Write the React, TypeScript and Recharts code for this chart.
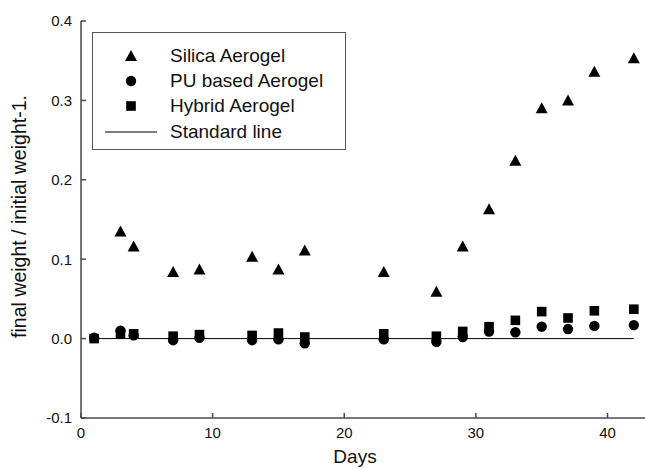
import React from "react";
import {
  ComposedChart,
  Scatter,
  XAxis,
  YAxis,
  ReferenceLine,
  Legend,
} from "recharts";

const SILICA_DAYS = [3, 4, 7, 9, 13, 15, 17, 23, 27, 29, 31, 33, 35, 37, 39, 42];
const SILICA = [0.135, 0.116, 0.084, 0.087, 0.103, 0.087, 0.111, 0.084, 0.059, 0.116, 0.163, 0.224, 0.29, 0.3, 0.336, 0.353];

const DAYS = [1, 3, 4, 7, 9, 13, 15, 17, 23, 27, 29, 31, 33, 35, 37, 39, 42];
const PU = [0.001, 0.01, 0.004, -0.002, 0.001, -0.002, -0.001, -0.006, -0.001, -0.004, 0.002, 0.009, 0.008, 0.015, 0.012, 0.016, 0.017];
const HYBRID = [0.0, 0.006, 0.006, 0.003, 0.005, 0.004, 0.007, 0.002, 0.006, 0.003, 0.009, 0.015, 0.023, 0.034, 0.026, 0.035, 0.037];

const X_TICKS = [0, 10, 20, 30, 40];
const Y_TICKS = [-0.1, 0.0, 0.1, 0.2, 0.3, 0.4];
const STANDARD = [
  { x: 1, y: 0 },
  { x: 42, y: 0 },
];

const LEGEND_ITEMS = [
  { name: "Silica Aerogel", kind: "triangle" },
  { name: "PU based Aerogel", kind: "circle" },
  { name: "Hybrid Aerogel", kind: "square" },
  { name: "Standard line", kind: "line" },
];

const silicaData = SILICA_DAYS.map((d, i) => ({ x: d, y: SILICA[i] }));
const puData = DAYS.map((d, i) => ({ x: d, y: PU[i] }));
const hybridData = DAYS.map((d, i) => ({ x: d, y: HYBRID[i] }));

const FONT = "'Liberation Sans', Arial, sans-serif";
const AXIS = "#4a4a4a";

const Triangle = (p: any) => (
  <polygon
    points={`${p.cx},${p.cy - 6} ${p.cx - 6},${p.cy + 5} ${p.cx + 6},${p.cy + 5}`}
    fill="#000"
  />
);
const Dot = (p: any) => <circle cx={p.cx} cy={p.cy} r={5.2} fill="#000" />;
const Square = (p: any) => (
  <rect x={p.cx - 4.8} y={p.cy - 4.8} width={9.6} height={9.6} fill="#000" />
);

function LegendIcon({ kind }: { kind: string }) {
  return (
    <svg width={56} height={20} style={{ display: "block" }}>
      {kind === "triangle" && <Triangle cx={28} cy={10} />}
      {kind === "circle" && <Dot cx={28} cy={10} />}
      {kind === "square" && <Square cx={28} cy={10} />}
      {kind === "line" && <line x1={2} y1={10} x2={54} y2={10} stroke="#000" strokeWidth={1} />}
    </svg>
  );
}

function LegendBox() {
  return (
    <div
      style={{
        width: 254,
        height: 118,
        border: "1px solid #555",
        boxSizing: "border-box",
        padding: "10px 0 0 10px",
        fontFamily: FONT,
        fontSize: 19,
        color: "#111",
        background: "#fff",
      }}
    >
      {LEGEND_ITEMS.map((it) => (
        <div
          key={it.name}
          style={{ display: "flex", alignItems: "center", height: 25.3 }}
        >
          <LegendIcon kind={it.kind} />
          <span style={{ marginLeft: 11 }}>{it.name}</span>
        </div>
      ))}
    </div>
  );
}

export default function App() {
  return (
    <div
      style={{
        position: "absolute",
        left: 0,
        top: 0,
        width: 645,
        height: 469,
        overflow: "hidden",
        background: "#fff",
      }}
    >
      <ComposedChart
        width={660}
        height={469}
        margin={{ top: 21, right: 13, bottom: 0, left: 0 }}
        style={{ fontFamily: FONT }}
      >
        <XAxis
          xAxisId="top"
          orientation="top"
          type="number"
          dataKey="x"
          domain={[0, 43]}
          ticks={[]}
          tick={false}
          height={0}
          stroke={AXIS}
          strokeWidth={1.5}
        />
        <XAxis
          type="number"
          dataKey="x"
          domain={[0, 43]}
          ticks={X_TICKS}
          allowDataOverflow
          tickSize={-5}
          tickMargin={14}
          height={51}
          stroke={AXIS}
          strokeWidth={1.5}
          tick={{ fill: "#111", fontSize: 15 }}
          label={{
            value: "Days",
            position: "insideBottom",
            offset: 6,
            dx: -9,
            fill: "#111",
            fontSize: 19,
          }}
        />
        <YAxis
          type="number"
          dataKey="y"
          domain={[-0.1, 0.4]}
          ticks={Y_TICKS}
          width={81}
          tickSize={-5}
          tickMargin={14}
          stroke={AXIS}
          strokeWidth={1.5}
          tickFormatter={(v: number) => v.toFixed(1)}
          tick={{ fill: "#111", fontSize: 15 }}
          label={{
            value: "final weight / initial weight-1.",
            angle: -90,
            position: "insideLeft",
            offset: 19,
            dy: -3,
            fill: "#111",
            fontSize: 19.5,
            style: { textAnchor: "middle" },
          }}
        />
        <ReferenceLine
          segment={STANDARD}
          stroke="#000"
          strokeWidth={1}
          ifOverflow="visible"
        />
        <Scatter name="Silica Aerogel" data={silicaData} shape={Triangle} isAnimationActive={false} />
        <Scatter name="Hybrid Aerogel" data={hybridData} shape={Square} isAnimationActive={false} />
        <Scatter name="PU based Aerogel" data={puData} shape={Dot} isAnimationActive={false} />
        <Legend
          layout="vertical"
          align="center"
          verticalAlign="middle"
          content={() => <LegendBox />}
          wrapperStyle={{ left: 92, top: 32, width: 254 }}
        />
      </ComposedChart>
    </div>
  );
}
